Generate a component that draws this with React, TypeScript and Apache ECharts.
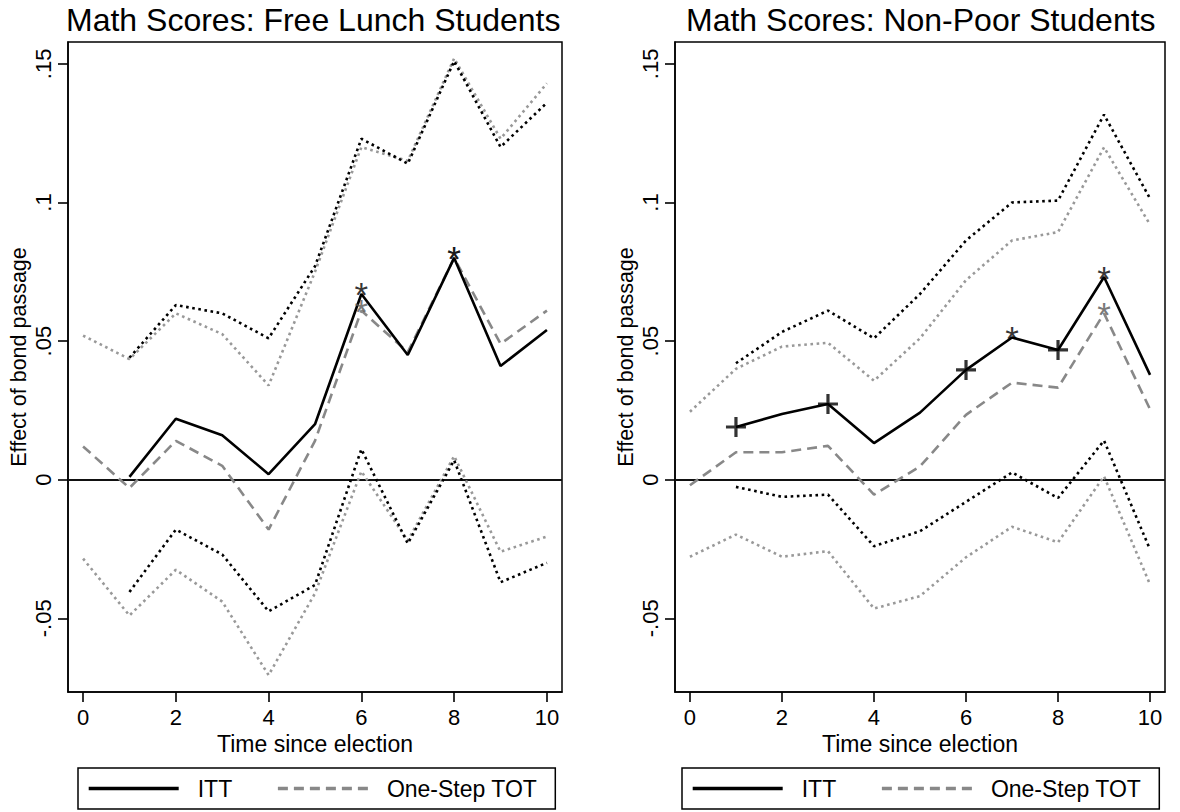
import React, { useEffect, useRef } from "react";
import * as echarts from "echarts";

// ---------- data ----------
const years = [0, 1, 2, 3, 4, 5, 6, 7, 8, 9, 10];
const xTicks = [0, 2, 4, 6, 8, 10];
const yTicks = [-0.05, 0, 0.05, 0.1, 0.15];
const yTickLabels = ["-.05", "0", ".05", ".1", ".15"];
const panelTitles = ["Math Scores: Free Lunch Students", "Math Scores: Non-Poor Students"];
const legendNames = ["ITT", "One-Step TOT"];
const xAxisTitle = "Time since election";
const yAxisTitle = "Effect of bond passage";

// Left panel: Free lunch students
const leftITT = [null, 0.001, 0.022, 0.016, 0.002, 0.020, 0.067, 0.045, 0.080, 0.041, 0.054];
const leftTOT = [0.012, -0.003, 0.014, 0.005, -0.018, 0.014, 0.061, 0.046, 0.080, 0.049, 0.061];
const leftIttUpper = [null, 0.044, 0.063, 0.060, 0.051, 0.077, 0.123, 0.114, 0.151, 0.120, 0.136];
const leftTotUpper = [0.052, 0.0435, 0.060, 0.0525, 0.034, 0.075, 0.120, 0.115, 0.152, 0.123, 0.143];
const leftIttLower = [null, -0.0405, -0.018, -0.027, -0.0475, -0.038, 0.011, -0.023, 0.007, -0.037, -0.030];
const leftTotLower = [-0.0285, -0.049, -0.0325, -0.044, -0.0705, -0.041, 0.003, -0.022, 0.0085, -0.026, -0.0205];
const leftIttStars = [6, 8];
const leftTotStars = [6, 8];
const leftIttPlus: number[] = [];

// Right panel: Non-poor students
const rightITT = [null, 0.019, 0.0237, 0.0273, 0.0132, 0.0242, 0.0396, 0.0513, 0.0468, 0.0731, 0.0378];
const rightTOT = [-0.002, 0.0099, 0.0099, 0.0122, -0.0054, 0.0048, 0.0234, 0.035, 0.0332, 0.060, 0.0254];
const rightIttUpper = [null, 0.042, 0.0533, 0.061, 0.051, 0.067, 0.0863, 0.100, 0.1007, 0.1317, 0.1014];
const rightTotUpper = [0.0245, 0.040, 0.048, 0.0494, 0.0357, 0.051, 0.072, 0.0863, 0.0893, 0.1199, 0.092];
const rightIttLower = [null, -0.0026, -0.0062, -0.0054, -0.024, -0.0186, -0.008, 0.0026, -0.0066, 0.0141, -0.0252];
const rightTotLower = [-0.0278, -0.0198, -0.0278, -0.0258, -0.0465, -0.042, -0.028, -0.017, -0.0226, 0.0012, -0.0378];
const rightIttStars = [7, 9];
const rightTotStars = [9];
const rightIttPlus = [1, 3, 6, 8];

// ---------- styling ----------
const FONT = "'Liberation Sans', Arial, Helvetica, sans-serif";
const BLACK = "#000000";
const DASH_GRAY = "#888888";
const DOT_GRAY = "#999999";
const PLUS_PATH = "path://M8.4,0h3.2v8.4h8.4v3.2h-8.4v8.4h-3.2v-8.4h-8.4v-3.2h8.4z";

type Val = number | null;

function pairs(vals: Val[]) {
  const out: [number, number][] = [];
  years.forEach((x, i) => {
    const v = vals[i];
    if (v !== null && v !== undefined) out.push([x, v]);
  });
  return out;
}

function pick(vals: Val[], idx: number[]) {
  return idx.map((x) => [x, vals[x] as number]);
}

function panelSeries(
  p: number,
  itt: Val[],
  tot: Val[],
  ittUp: Val[],
  totUp: Val[],
  ittLo: Val[],
  totLo: Val[],
  ittStars: number[],
  totStars: number[],
  ittPlus: number[]
) {
  const base = { xAxisIndex: p, yAxisIndex: p, symbol: "none", silent: true };
  const dotted = (name: string, vals: Val[], color: string) => ({
    ...base,
    type: "line",
    name,
    data: pairs(vals),
    lineStyle: { color, width: 2.6, type: [2.6, 3.6], cap: "butt" },
    z: 2,
  });
  const star = (name: string, vals: Val[], idx: number[], color: string, z: number) => ({
    type: "scatter",
    name,
    xAxisIndex: p,
    yAxisIndex: p,
    silent: true,
    symbol: "circle",
    symbolSize: 1,
    itemStyle: { color: "rgba(0,0,0,0)" },
    data: pick(vals, idx),
    label: {
      show: true,
      position: "inside",
      offset: [0, 1],
      formatter: "*",
      fontSize: 35,
      lineHeight: 14,
      fontFamily: FONT,
      color,
    },
    z,
  });
  return [
    dotted(`p${p} TOT upper`, totUp, DOT_GRAY),
    dotted(`p${p} TOT lower`, totLo, DOT_GRAY),
    dotted(`p${p} ITT upper`, ittUp, BLACK),
    dotted(`p${p} ITT lower`, ittLo, BLACK),
    {
      ...base,
      type: "line",
      name: "One-Step TOT",
      data: pairs(tot),
      lineStyle: { color: DASH_GRAY, width: 2.6, type: [10, 6] },
      itemStyle: { color: DASH_GRAY },
      z: 3,
    },
    {
      ...base,
      type: "line",
      name: "ITT",
      data: pairs(itt),
      lineStyle: { color: BLACK, width: 2.6, type: "solid" },
      itemStyle: { color: BLACK },
      z: 4,
      markLine: {
        silent: true,
        symbol: "none",
        label: { show: false },
        lineStyle: { color: "#111111", width: 2, type: "solid" },
        data: [{ yAxis: 0 }],
        z: 1,
      },
    },
    star(`p${p} TOT stars`, tot, totStars, "#555555", 6),
    star(`p${p} ITT stars`, itt, ittStars, BLACK, 7),
    {
      type: "scatter",
      name: `p${p} ITT plus`,
      xAxisIndex: p,
      yAxisIndex: p,
      silent: true,
      symbol: PLUS_PATH,
      symbolSize: 20,
      itemStyle: { color: BLACK },
      data: pick(itt, ittPlus),
      z: 6,
    },
  ];
}

const grids = [
  { left: 68, top: 42, width: 494, height: 650 },
  { left: 675, top: 42, width: 490, height: 650 },
];

function buildOption() {
  const xAxes = grids.map((_, i) => ({
    type: "value",
    gridIndex: i,
    min: -0.325,
    max: 10.325,
    name: xAxisTitle,
    nameLocation: "middle",
    nameGap: 36,
    nameTextStyle: { fontSize: 23, color: BLACK, fontFamily: FONT },
    axisLine: { show: true, onZero: false, lineStyle: { color: BLACK, width: 1.5 } },
    axisTick: { show: true, inside: false, length: 10, customValues: xTicks, lineStyle: { color: BLACK, width: 1.6 } },
    axisLabel: { show: true, customValues: xTicks, margin: 14, fontSize: 22, color: BLACK, fontFamily: FONT },
    splitLine: { show: false },
  }));
  const yAxes = grids.map((_, i) => ({
    type: "value",
    gridIndex: i,
    min: -0.0766,
    max: 0.1579,
    name: yAxisTitle,
    nameLocation: "middle",
    nameGap: 38,
    nameRotate: 90,
    nameTextStyle: { fontSize: 21.5, color: BLACK, fontFamily: FONT, padding: [0, 0, 0, 20] },
    axisLine: { show: true, onZero: false, lineStyle: { color: BLACK, width: 1.5 } },
    axisTick: { show: true, inside: false, length: 10, customValues: yTicks, lineStyle: { color: BLACK, width: 1.6 } },
    axisLabel: {
      show: true,
      customValues: yTicks,
      rotate: 90,
      margin: 14,
      fontSize: 22,
      color: BLACK,
      fontFamily: FONT,
      formatter: (v: number) => {
        const k = yTicks.findIndex((t) => Math.abs(t - v) < 1e-9);
        return k >= 0 ? yTickLabels[k] : "";
      },
    },
    splitLine: { show: false },
  }));
  const legendLefts = [78, 682];
  return {
    animation: false,
    backgroundColor: "#ffffff",
    textStyle: { fontFamily: FONT, color: BLACK },
    title: panelTitles.map((t, i) => ({
      text: t,
      left: i === 0 ? 66 : 686,
      top: 4,
      padding: 0,
      textStyle: { fontSize: 32, fontWeight: "normal", color: BLACK, fontFamily: FONT },
    })),
    grid: grids.map((g) => ({
      ...g,
      show: true,
      borderColor: BLACK,
      borderWidth: 1.5,
      backgroundColor: "transparent",
    })),
    legend: legendLefts.map((l) => ({
      data: legendNames,
      left: l,
      top: 768,
      orient: "horizontal",
      padding: [9, 18, 9, 9],
      itemGap: 44,
      itemWidth: 90,
      itemHeight: 22,
      borderColor: BLACK,
      borderWidth: 1.5,
      borderRadius: 0,
      selectedMode: false,
      itemStyle: { color: "rgba(0,0,0,0)", borderWidth: 0, opacity: 0 },
      lineStyle: { width: 3.4 },
      textStyle: { fontSize: 23, color: BLACK, fontFamily: FONT, padding: [0, 0, 0, 14] },
    })),
    xAxis: xAxes,
    yAxis: yAxes,
    series: [
      ...panelSeries(0, leftITT, leftTOT, leftIttUpper, leftTotUpper, leftIttLower, leftTotLower, leftIttStars, leftTotStars, leftIttPlus),
      ...panelSeries(1, rightITT, rightTOT, rightIttUpper, rightTotUpper, rightIttLower, rightTotLower, rightIttStars, rightTotStars, rightIttPlus),
    ],
  };
}

export default function App() {
  const ref = useRef<HTMLDivElement>(null);
  useEffect(() => {
    if (!ref.current) return;
    const chart = echarts.init(ref.current, null, { renderer: "svg" });
    chart.setOption(buildOption() as any);
    return () => chart.dispose();
  }, []);
  return (
    <div
      ref={ref}
      style={{ position: "absolute", left: 0, top: 0, width: 1180, height: 812, background: "#fff" }}
    />
  );
}
